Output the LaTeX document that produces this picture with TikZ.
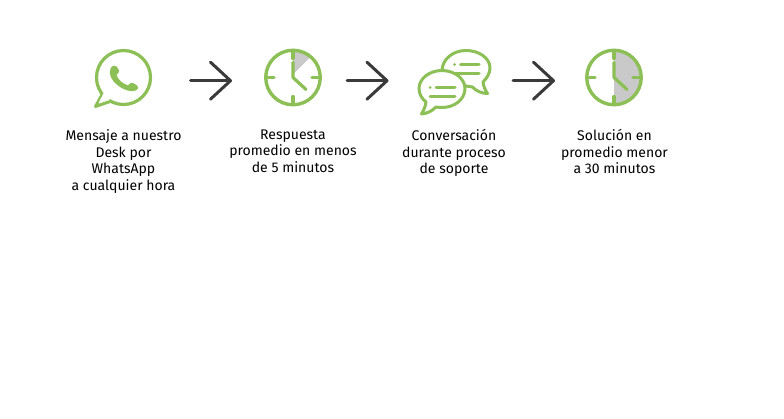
\documentclass[tikz,border=0pt]{standalone}
\usepackage{fontspec}
\setmainfont{Fira Sans}
\usetikzlibrary{arrows.meta}
\definecolor{gr}{HTML}{8CBF55}
\definecolor{wedge}{HTML}{C9C9C9}
\definecolor{ink}{HTML}{3A3A3A}
\tikzset{
  x=1pt,y=-1pt,
  icon/.style={draw=gr,line width=3.2pt,line cap=round,line join=round},
  thin icon/.style={draw=gr,line width=3pt,line cap=round,line join=round},
  flow/.style={draw=ink,line width=3pt,line cap=round,line join=round,-{Straight Barb[length=20pt,width=37pt,line width=3pt,round]}},
  caption/.style={align=center,font=\fontsize{14}{16.6}\selectfont,text=black,anchor=north,inner sep=0pt},
  clockface/.style={circle,draw=gr,line width=3.4pt,minimum size=54.5pt,inner sep=0pt}
}
\newcommand{\clockmarks}[1]{
  \draw[icon] (#1)+(0,-25) -- +(0,-19);
  \draw[icon] (#1)+(0,25) -- +(0,19);
  \draw[icon] (#1)+(-25,0) -- +(-19,0);
  \draw[icon] (#1)+(25,0) -- +(19,0);
  \draw[icon] (#1)+(0,-15) -- +(0,0) -- +(13,12);
}
\begin{document}
\begin{tikzpicture}
\useasboundingbox[fill=white] (0,0) rectangle (784,418);
% WhatsApp icon
\coordinate (wa) at (123.5,77.5);
\node[circle,draw=gr,line width=3.2pt,minimum size=54pt,inner sep=0pt] (waring) at (wa) {};
\path[draw=gr,line width=3pt,line join=round,fill=white]
  (102.6,93.5) -- (95.5,106.5) -- (110,101.5);
\fill[white] (104,92.5) -- (98.5,103) -- (110,99.5) -- (112,95) -- cycle;
\begin{scope}[shift={(110.8,65.6)},xscale=1.2,yscale=1.1,shift={(-112.5,-65.6)}]
\fill[gr] (112.5,67.6) .. controls (114.5,65.2) and (116.5,65.2) .. (117.5,66.6)
  -- (119.4,70) .. controls (120,71.6) and (118.4,72.6) .. (117.2,74)
  .. controls (118.6,78.4) and (122.2,82) .. (126.8,83.6)
  .. controls (128.2,82.2) and (129.4,80.6) .. (131,81.4)
  -- (134.4,83.6) .. controls (136,84.8) and (135.6,86.6) .. (133.4,88.2)
  .. controls (126,92) and (107.4,79) .. (112.5,67.6) -- cycle;
\end{scope}
% arrows
\coordinate (a1s) at (190.5,80.7); \coordinate (a1e) at (232,80.7);
\coordinate (a2s) at (347,80.7);   \coordinate (a2e) at (388.5,80.7);
\coordinate (a3s) at (513,80.7);   \coordinate (a3e) at (555,80.7);
\draw[flow] (a1s) -- (a1e);
\draw[flow] (a2s) -- (a2e);
\draw[flow] (a3s) -- (a3e);
% clock 1
\coordinate (c1) at (293,77.5);
\fill[wedge] (c1)+(0,-3) -- +(0,-26.5) arc[start angle=-90,end angle=-50,radius=26.5] -- cycle;
\node[clockface] (clockA) at (c1) {};
\clockmarks{c1}
% clock 2
\coordinate (c2) at (614,77.5);
\fill[wedge] (c2)+(0,-26.5) arc[start angle=-90,end angle=90,radius=26.5] -- cycle;
\node[clockface] (clockB) at (c2) {};
\clockmarks{c2}
% chat bubbles
\draw[thin icon] (466,50.5) .. controls (479,50.5) and (490,58) .. (490,68)
  .. controls (490,74) and (486,79) .. (483,82)
  .. controls (483.5,86) and (485,90) .. (487.5,93.5)
  .. controls (482,93.5) and (476,91) .. (472.5,87)
  .. controls (470,86.5) and (467,86) .. (464,86)
  .. controls (452,86) and (444,78) .. (442,71)
  .. controls (442,60) and (452,50.5) .. (466,50.5) -- cycle;
\draw[thin icon,fill=white] (442,70.5) .. controls (429,70.5) and (419,79) .. (419,88.5)
  .. controls (419,94) and (422,99) .. (426,102)
  .. controls (425.5,106) and (424,110) .. (421.5,114)
  .. controls (427,113.5) and (432,111) .. (436,107)
  .. controls (438,107.5) and (440,107.5) .. (442,107.5)
  .. controls (455,107.5) and (465,99) .. (465,88.5)
  .. controls (465,79) and (455,70.5) .. (442,70.5) -- cycle;
\draw[thin icon] (460.5,64.3) -- (479,64.3);
\draw[thin icon] (454.5,73.3) -- (479,73.3);
\draw[thin icon] (454.5,64.3) -- (454.6,64.3);
\draw[thin icon] (436,87.7) -- (455,87.7);
\draw[thin icon] (430,96) -- (455,96);
\draw[thin icon] (430,87.7) -- (430.1,87.7);
% captions
\node[caption] (t1) at (123.5,129.3) {Mensaje a nuestro\\Desk por\\WhatsApp\\a cualquier hora};
\node[caption] (t2) at (293,129.3) {Respuesta\\promedio en menos\\de 5 minutos};
\node[caption] (t3) at (454,129.3) {Conversación\\durante proceso\\de soporte};
\node[caption] (t4) at (614.5,129.3) {Solución en\\promedio menor\\a 30 minutos};
\end{tikzpicture}
\end{document}
